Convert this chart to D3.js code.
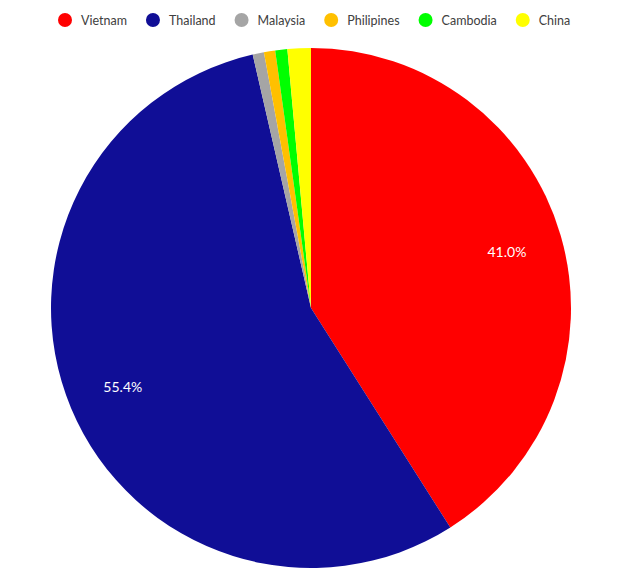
<!DOCTYPE html>
<html><head><meta charset="utf-8">
<script src="https://cdn.jsdelivr.net/npm/d3@7"></script>
<style>body{margin:0;background:#fff}</style>
</head><body>
<svg id="chart" width="624" height="581"></svg>
<script>
const categories = ["Vietnam","Thailand","Malaysia","Philipines","Cambodia","China"];
const shares = [41.0, 55.4, 0.7, 0.7, 0.75, 1.45];
const colors = ["#FF0000","#100E96","#A5A5A5","#FFC000","#00FF00","#FFFF00"];
const labelled = [true, true, false, false, false, false];

const svg = d3.select("#chart");
const cx = 311, cy = 308, R = 260;
const data = categories.map((c,i)=>({name:c, value:shares[i], color:colors[i], label:labelled[i]}));
const pie = d3.pie().value(d=>d.value).sort(null);
const arc = d3.arc().innerRadius(0).outerRadius(R);
const labelArc = d3.arc().innerRadius(204).outerRadius(204);
const g = svg.append("g").attr("transform",`translate(${cx},${cy})`);
const arcs = pie(data);
g.selectAll("path").data(arcs).join("path")
  .attr("d",arc).attr("fill",d=>d.data.color);
g.selectAll("text").data(arcs.filter(d=>d.data.label)).join("text")
  .attr("transform",d=>`translate(${labelArc.centroid(d)})`)
  .attr("text-anchor","middle").attr("dominant-baseline","central")
  .attr("fill","#fff").style("font-family","Lato, 'Open Sans', sans-serif").style("font-size","14px")
  .text(d=>d.data.value.toFixed(1)+"%");

// legend
const lg = svg.append("g").attr("transform","translate(0,20)");
let x = 65;
data.forEach(d=>{
  const it = lg.append("g").attr("transform",`translate(${x},0)`);
  it.append("circle").attr("cx",0).attr("cy",0).attr("r",7).attr("fill",d.color);
  const t = it.append("text").attr("x",16).attr("y",0).attr("dominant-baseline","central")
    .attr("fill","#404040").style("font-family","Lato, 'Open Sans', sans-serif").style("font-size","12.5px").text(d.name);
  x += 16 + t.node().getComputedTextLength() + 26;
});
</script>
</body></html>
